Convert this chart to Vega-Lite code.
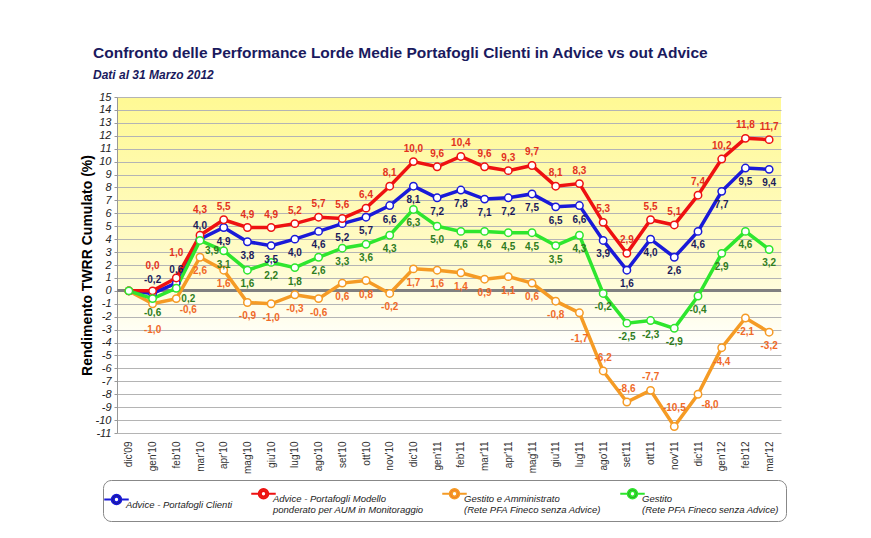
{
  "$schema": "https://vega.github.io/schema/vega-lite/v6.json",
  "width": 664,
  "height": 336,
  "padding": {"left": 80, "top": 45, "right": 10, "bottom": 5},
  "background": "white",
  "title": {
    "text": "Confronto delle Performance Lorde Medie Portafogli Clienti in Advice vs out Advice",
    "subtitle": "Dati al 31 Marzo 2012",
    "anchor": "start",
    "frame": "group",
    "dx": -24,
    "fontSize": 15.5,
    "fontWeight": "bold",
    "color": "#1a1a5e",
    "subtitleFontSize": 12,
    "subtitleFontWeight": "bold",
    "subtitleFontStyle": "italic",
    "subtitleColor": "#1a1a5e",
    "subtitlePadding": 9,
    "offset": 10
  },
  "config": {
    "locale": {
      "number": {"decimal": ",", "thousands": ".", "grouping": [3], "currency": ["", " €"], "minus": "-"}
    },
    "view": {
      "stroke": null,
      "fill": {
        "gradient": "linear",
        "x1": 0, "y1": 0, "x2": 0, "y2": 1,
        "stops": [
          {"offset": 0, "color": "#fff994"},
          {"offset": 0.45, "color": "#fffbc6"},
          {"offset": 0.75, "color": "#ffffff"},
          {"offset": 1, "color": "#ffffff"}
        ]
      }
    },
    "font": "Liberation Sans"
  },
  "data": {
    "values": [
      {"mese": "dic'09", "serie": "Advice - Portafogli Clienti", "v": 0},
      {"mese": "gen'10", "serie": "Advice - Portafogli Clienti", "v": -0.2},
      {"mese": "feb'10", "serie": "Advice - Portafogli Clienti", "v": 0.6},
      {"mese": "mar'10", "serie": "Advice - Portafogli Clienti", "v": 4.0},
      {"mese": "apr'10", "serie": "Advice - Portafogli Clienti", "v": 4.9},
      {"mese": "mag'10", "serie": "Advice - Portafogli Clienti", "v": 3.8},
      {"mese": "giu'10", "serie": "Advice - Portafogli Clienti", "v": 3.5},
      {"mese": "lug'10", "serie": "Advice - Portafogli Clienti", "v": 4.0},
      {"mese": "ago'10", "serie": "Advice - Portafogli Clienti", "v": 4.6},
      {"mese": "set'10", "serie": "Advice - Portafogli Clienti", "v": 5.2},
      {"mese": "ott'10", "serie": "Advice - Portafogli Clienti", "v": 5.7},
      {"mese": "nov'10", "serie": "Advice - Portafogli Clienti", "v": 6.6},
      {"mese": "dic'10", "serie": "Advice - Portafogli Clienti", "v": 8.1},
      {"mese": "gen'11", "serie": "Advice - Portafogli Clienti", "v": 7.2},
      {"mese": "feb'11", "serie": "Advice - Portafogli Clienti", "v": 7.8},
      {"mese": "mar'11", "serie": "Advice - Portafogli Clienti", "v": 7.1},
      {"mese": "apr'11", "serie": "Advice - Portafogli Clienti", "v": 7.2},
      {"mese": "mag'11", "serie": "Advice - Portafogli Clienti", "v": 7.5},
      {"mese": "giu'11", "serie": "Advice - Portafogli Clienti", "v": 6.5},
      {"mese": "lug'11", "serie": "Advice - Portafogli Clienti", "v": 6.6},
      {"mese": "ago'11", "serie": "Advice - Portafogli Clienti", "v": 3.9},
      {"mese": "set'11", "serie": "Advice - Portafogli Clienti", "v": 1.6},
      {"mese": "ott'11", "serie": "Advice - Portafogli Clienti", "v": 4.0},
      {"mese": "nov'11", "serie": "Advice - Portafogli Clienti", "v": 2.6},
      {"mese": "dic'11", "serie": "Advice - Portafogli Clienti", "v": 4.6},
      {"mese": "gen'12", "serie": "Advice - Portafogli Clienti", "v": 7.7},
      {"mese": "feb'12", "serie": "Advice - Portafogli Clienti", "v": 9.5},
      {"mese": "mar'12", "serie": "Advice - Portafogli Clienti", "v": 9.4},
      {"mese": "dic'09", "serie": "Advice - Portafogli Modello|ponderato per AUM in Monitoraggio", "v": 0},
      {"mese": "gen'10", "serie": "Advice - Portafogli Modello|ponderato per AUM in Monitoraggio", "v": 0.0},
      {"mese": "feb'10", "serie": "Advice - Portafogli Modello|ponderato per AUM in Monitoraggio", "v": 1.0},
      {"mese": "mar'10", "serie": "Advice - Portafogli Modello|ponderato per AUM in Monitoraggio", "v": 4.3},
      {"mese": "apr'10", "serie": "Advice - Portafogli Modello|ponderato per AUM in Monitoraggio", "v": 5.5},
      {"mese": "mag'10", "serie": "Advice - Portafogli Modello|ponderato per AUM in Monitoraggio", "v": 4.9},
      {"mese": "giu'10", "serie": "Advice - Portafogli Modello|ponderato per AUM in Monitoraggio", "v": 4.9},
      {"mese": "lug'10", "serie": "Advice - Portafogli Modello|ponderato per AUM in Monitoraggio", "v": 5.2},
      {"mese": "ago'10", "serie": "Advice - Portafogli Modello|ponderato per AUM in Monitoraggio", "v": 5.7},
      {"mese": "set'10", "serie": "Advice - Portafogli Modello|ponderato per AUM in Monitoraggio", "v": 5.6},
      {"mese": "ott'10", "serie": "Advice - Portafogli Modello|ponderato per AUM in Monitoraggio", "v": 6.4},
      {"mese": "nov'10", "serie": "Advice - Portafogli Modello|ponderato per AUM in Monitoraggio", "v": 8.1},
      {"mese": "dic'10", "serie": "Advice - Portafogli Modello|ponderato per AUM in Monitoraggio", "v": 10.0},
      {"mese": "gen'11", "serie": "Advice - Portafogli Modello|ponderato per AUM in Monitoraggio", "v": 9.6},
      {"mese": "feb'11", "serie": "Advice - Portafogli Modello|ponderato per AUM in Monitoraggio", "v": 10.4},
      {"mese": "mar'11", "serie": "Advice - Portafogli Modello|ponderato per AUM in Monitoraggio", "v": 9.6},
      {"mese": "apr'11", "serie": "Advice - Portafogli Modello|ponderato per AUM in Monitoraggio", "v": 9.3},
      {"mese": "mag'11", "serie": "Advice - Portafogli Modello|ponderato per AUM in Monitoraggio", "v": 9.7},
      {"mese": "giu'11", "serie": "Advice - Portafogli Modello|ponderato per AUM in Monitoraggio", "v": 8.1},
      {"mese": "lug'11", "serie": "Advice - Portafogli Modello|ponderato per AUM in Monitoraggio", "v": 8.3},
      {"mese": "ago'11", "serie": "Advice - Portafogli Modello|ponderato per AUM in Monitoraggio", "v": 5.3},
      {"mese": "set'11", "serie": "Advice - Portafogli Modello|ponderato per AUM in Monitoraggio", "v": 2.9},
      {"mese": "ott'11", "serie": "Advice - Portafogli Modello|ponderato per AUM in Monitoraggio", "v": 5.5},
      {"mese": "nov'11", "serie": "Advice - Portafogli Modello|ponderato per AUM in Monitoraggio", "v": 5.1},
      {"mese": "dic'11", "serie": "Advice - Portafogli Modello|ponderato per AUM in Monitoraggio", "v": 7.4},
      {"mese": "gen'12", "serie": "Advice - Portafogli Modello|ponderato per AUM in Monitoraggio", "v": 10.2},
      {"mese": "feb'12", "serie": "Advice - Portafogli Modello|ponderato per AUM in Monitoraggio", "v": 11.8},
      {"mese": "mar'12", "serie": "Advice - Portafogli Modello|ponderato per AUM in Monitoraggio", "v": 11.7},
      {"mese": "dic'09", "serie": "Gestito e Amministrato|(Rete PFA Fineco senza Advice)", "v": 0},
      {"mese": "gen'10", "serie": "Gestito e Amministrato|(Rete PFA Fineco senza Advice)", "v": -1.0},
      {"mese": "feb'10", "serie": "Gestito e Amministrato|(Rete PFA Fineco senza Advice)", "v": -0.6},
      {"mese": "mar'10", "serie": "Gestito e Amministrato|(Rete PFA Fineco senza Advice)", "v": 2.6},
      {"mese": "apr'10", "serie": "Gestito e Amministrato|(Rete PFA Fineco senza Advice)", "v": 1.6},
      {"mese": "mag'10", "serie": "Gestito e Amministrato|(Rete PFA Fineco senza Advice)", "v": -0.9},
      {"mese": "giu'10", "serie": "Gestito e Amministrato|(Rete PFA Fineco senza Advice)", "v": -1.0},
      {"mese": "lug'10", "serie": "Gestito e Amministrato|(Rete PFA Fineco senza Advice)", "v": -0.3},
      {"mese": "ago'10", "serie": "Gestito e Amministrato|(Rete PFA Fineco senza Advice)", "v": -0.6},
      {"mese": "set'10", "serie": "Gestito e Amministrato|(Rete PFA Fineco senza Advice)", "v": 0.6},
      {"mese": "ott'10", "serie": "Gestito e Amministrato|(Rete PFA Fineco senza Advice)", "v": 0.8},
      {"mese": "nov'10", "serie": "Gestito e Amministrato|(Rete PFA Fineco senza Advice)", "v": -0.2},
      {"mese": "dic'10", "serie": "Gestito e Amministrato|(Rete PFA Fineco senza Advice)", "v": 1.7},
      {"mese": "gen'11", "serie": "Gestito e Amministrato|(Rete PFA Fineco senza Advice)", "v": 1.6},
      {"mese": "feb'11", "serie": "Gestito e Amministrato|(Rete PFA Fineco senza Advice)", "v": 1.4},
      {"mese": "mar'11", "serie": "Gestito e Amministrato|(Rete PFA Fineco senza Advice)", "v": 0.9},
      {"mese": "apr'11", "serie": "Gestito e Amministrato|(Rete PFA Fineco senza Advice)", "v": 1.1},
      {"mese": "mag'11", "serie": "Gestito e Amministrato|(Rete PFA Fineco senza Advice)", "v": 0.6},
      {"mese": "giu'11", "serie": "Gestito e Amministrato|(Rete PFA Fineco senza Advice)", "v": -0.8},
      {"mese": "lug'11", "serie": "Gestito e Amministrato|(Rete PFA Fineco senza Advice)", "v": -1.7},
      {"mese": "ago'11", "serie": "Gestito e Amministrato|(Rete PFA Fineco senza Advice)", "v": -6.2},
      {"mese": "set'11", "serie": "Gestito e Amministrato|(Rete PFA Fineco senza Advice)", "v": -8.6},
      {"mese": "ott'11", "serie": "Gestito e Amministrato|(Rete PFA Fineco senza Advice)", "v": -7.7},
      {"mese": "nov'11", "serie": "Gestito e Amministrato|(Rete PFA Fineco senza Advice)", "v": -10.5},
      {"mese": "dic'11", "serie": "Gestito e Amministrato|(Rete PFA Fineco senza Advice)", "v": -8.0},
      {"mese": "gen'12", "serie": "Gestito e Amministrato|(Rete PFA Fineco senza Advice)", "v": -4.4},
      {"mese": "feb'12", "serie": "Gestito e Amministrato|(Rete PFA Fineco senza Advice)", "v": -2.1},
      {"mese": "mar'12", "serie": "Gestito e Amministrato|(Rete PFA Fineco senza Advice)", "v": -3.2},
      {"mese": "dic'09", "serie": "Gestito|(Rete PFA Fineco senza Advice)", "v": 0},
      {"mese": "gen'10", "serie": "Gestito|(Rete PFA Fineco senza Advice)", "v": -0.6},
      {"mese": "feb'10", "serie": "Gestito|(Rete PFA Fineco senza Advice)", "v": 0.2},
      {"mese": "mar'10", "serie": "Gestito|(Rete PFA Fineco senza Advice)", "v": 3.9},
      {"mese": "apr'10", "serie": "Gestito|(Rete PFA Fineco senza Advice)", "v": 3.1},
      {"mese": "mag'10", "serie": "Gestito|(Rete PFA Fineco senza Advice)", "v": 1.6},
      {"mese": "giu'10", "serie": "Gestito|(Rete PFA Fineco senza Advice)", "v": 2.2},
      {"mese": "lug'10", "serie": "Gestito|(Rete PFA Fineco senza Advice)", "v": 1.8},
      {"mese": "ago'10", "serie": "Gestito|(Rete PFA Fineco senza Advice)", "v": 2.6},
      {"mese": "set'10", "serie": "Gestito|(Rete PFA Fineco senza Advice)", "v": 3.3},
      {"mese": "ott'10", "serie": "Gestito|(Rete PFA Fineco senza Advice)", "v": 3.6},
      {"mese": "nov'10", "serie": "Gestito|(Rete PFA Fineco senza Advice)", "v": 4.3},
      {"mese": "dic'10", "serie": "Gestito|(Rete PFA Fineco senza Advice)", "v": 6.3},
      {"mese": "gen'11", "serie": "Gestito|(Rete PFA Fineco senza Advice)", "v": 5.0},
      {"mese": "feb'11", "serie": "Gestito|(Rete PFA Fineco senza Advice)", "v": 4.6},
      {"mese": "mar'11", "serie": "Gestito|(Rete PFA Fineco senza Advice)", "v": 4.6},
      {"mese": "apr'11", "serie": "Gestito|(Rete PFA Fineco senza Advice)", "v": 4.5},
      {"mese": "mag'11", "serie": "Gestito|(Rete PFA Fineco senza Advice)", "v": 4.5},
      {"mese": "giu'11", "serie": "Gestito|(Rete PFA Fineco senza Advice)", "v": 3.5},
      {"mese": "lug'11", "serie": "Gestito|(Rete PFA Fineco senza Advice)", "v": 4.3},
      {"mese": "ago'11", "serie": "Gestito|(Rete PFA Fineco senza Advice)", "v": -0.2},
      {"mese": "set'11", "serie": "Gestito|(Rete PFA Fineco senza Advice)", "v": -2.5},
      {"mese": "ott'11", "serie": "Gestito|(Rete PFA Fineco senza Advice)", "v": -2.3},
      {"mese": "nov'11", "serie": "Gestito|(Rete PFA Fineco senza Advice)", "v": -2.9},
      {"mese": "dic'11", "serie": "Gestito|(Rete PFA Fineco senza Advice)", "v": -0.4},
      {"mese": "gen'12", "serie": "Gestito|(Rete PFA Fineco senza Advice)", "v": 2.9},
      {"mese": "feb'12", "serie": "Gestito|(Rete PFA Fineco senza Advice)", "v": 4.6},
      {"mese": "mar'12", "serie": "Gestito|(Rete PFA Fineco senza Advice)", "v": 3.2}
    ]
  },
  "encoding": {
    "x": {
      "field": "mese",
      "type": "ordinal",
      "sort": null,
      "scale": {"type": "point", "padding": 0.5},
      "axis": {
        "title": null,
        "labelAngle": -90,
        "labelFontSize": 10,
        "labelColor": "#333333",
        "labelPadding": 8,
        "ticks": false,
        "domain": false,
        "grid": false
      }
    },
    "y": {
      "field": "v",
      "type": "quantitative",
      "scale": {"domain": [-11, 15], "nice": false, "zero": false},
      "axis": {
        "title": "Rendimento TWRR Cumulato (%)",
        "titleFontSize": 14,
        "titleFontWeight": "bold",
        "titleColor": "#000000",
        "titlePadding": 1,
        "values": [-11, -10, -9, -8, -7, -6, -5, -4, -3, -2, -1, 0, 1, 2, 3, 4, 5, 6, 7, 8, 9, 10, 11, 12, 13, 14, 15],
        "format": "d",
        "labelFontSize": 11,
        "labelFontStyle": "italic",
        "labelColor": "#222222",
        "labelPadding": 3,
        "tickSize": 3,
        "tickColor": "#999999",
        "domainColor": "#999999",
        "gridColor": "#b4b4b4",
        "gridWidth": 1
      }
    }
  },
  "layer": [
    {
      "mark": {"type": "rule", "color": "#808080", "strokeWidth": 2},
      "encoding": {"y": {"datum": 0}, "x": {}}
    },
    {
      "mark": {"type": "line", "strokeWidth": 3.5},
      "encoding": {
        "stroke": {
          "field": "serie",
          "type": "nominal",
          "scale": {
            "domain": [
              "Advice - Portafogli Clienti",
              "Advice - Portafogli Modello|ponderato per AUM in Monitoraggio",
              "Gestito e Amministrato|(Rete PFA Fineco senza Advice)",
              "Gestito|(Rete PFA Fineco senza Advice)"
            ],
            "range": ["#1a1ad8", "#ee1111", "#f59b25", "#2ee62e"]
          },
          "legend": {
            "title": null,
            "orient": "none",
            "legendX": -14,
            "legendY": 383,
            "direction": "horizontal",
            "columns": 4,
            "labelExpr": "split(datum.label, '|')",
            "labelFontSize": 9.5,
            "labelFontStyle": "italic",
            "labelColor": "#222222",
            "labelLimit": 300,
            "labelBaseline": "top",
            "labelOffset": 2,
            "columnPadding": 14,
            "symbolType": "M-2,0H-0.8M0.8,0H2M0.8,0A0.8,0.8,0,1,1,-0.8,0A0.8,0.8,0,1,1,0.8,0ZM0.42,0A0.42,0.42,0,1,0,-0.42,0A0.42,0.42,0,1,0,0.42,0Z",
            "symbolSize": 150,
            "symbolStrokeWidth": 1.8,
            "symbolFillColor": "white",
            "strokeColor": "#888888",
            "cornerRadius": 8,
            "padding": 6
          }
        }
      }
    },
    {
      "mark": {"type": "point", "filled": true, "fill": "white", "strokeWidth": 1.5, "size": 55, "opacity": 1},
      "encoding": {
        "stroke": {"field": "serie", "type": "nominal"}
      }
    },
    {
      "transform": [
        {"filter": "datum.mese != \"dic'09\""},
        {"calculate": "indexof(datum.serie,'Modello')>=0 ? (indexof([\"gen'10\",\"feb'10\",\"mar'10\"],datum.mese)>=0 ? 'B' : 'A') : datum.serie=='Advice - Portafogli Clienti' ? (indexof([\"gen'10\",\"feb'10\",\"mar'10\"],datum.mese)>=0 ? 'A' : 'C') : indexof(datum.serie,'Amministrato')>=0 ? (indexof([\"ago'11\",\"set'11\",\"ott'11\"],datum.mese)>=0 ? 'A' : datum.mese==\"nov'11\" ? 'A2' : indexof([\"gen'10\",\"lug'11\"],datum.mese)>=0 ? 'D' : indexof([\"feb'10\",\"dic'11\"],datum.mese)>=0 ? 'E' : 'C') : (indexof([\"feb'10\",\"mar'10\"],datum.mese)>=0 ? 'E' : 'C')", "as": "grp"}
      ],
      "encoding": {
        "text": {"field": "v", "type": "quantitative", "format": ".1f"},
        "fill": {
          "field": "serie",
          "type": "nominal",
          "scale": {
            "domain": [
              "Advice - Portafogli Clienti",
              "Advice - Portafogli Modello|ponderato per AUM in Monitoraggio",
              "Gestito e Amministrato|(Rete PFA Fineco senza Advice)",
              "Gestito|(Rete PFA Fineco senza Advice)"
            ],
            "range": ["#1c1c5c", "#e3321e", "#f06a28", "#2f7d1e"]
          },
          "legend": null
        }
      },
      "layer": [
        {
          "transform": [{"filter": "datum.grp == 'A'"}],
          "mark": {"type": "text", "dy": -13, "fontSize": 10, "fontWeight": "bold"}
        },
        {
          "transform": [{"filter": "datum.grp == 'A2'"}],
          "mark": {"type": "text", "dy": -19, "fontSize": 10, "fontWeight": "bold"}
        },
        {
          "transform": [{"filter": "datum.grp == 'B'"}],
          "mark": {"type": "text", "dy": -25, "fontSize": 10, "fontWeight": "bold"}
        },
        {
          "transform": [{"filter": "datum.grp == 'C'"}],
          "mark": {"type": "text", "dy": 14, "fontSize": 10, "fontWeight": "bold"}
        },
        {
          "transform": [{"filter": "datum.grp == 'D'"}],
          "mark": {"type": "text", "dy": 26, "fontSize": 10, "fontWeight": "bold"}
        },
        {
          "transform": [{"filter": "datum.grp == 'E'"}],
          "mark": {"type": "text", "dx": 12, "dy": 11, "fontSize": 10, "fontWeight": "bold"}
        }
      ]
    }
  ]
}
